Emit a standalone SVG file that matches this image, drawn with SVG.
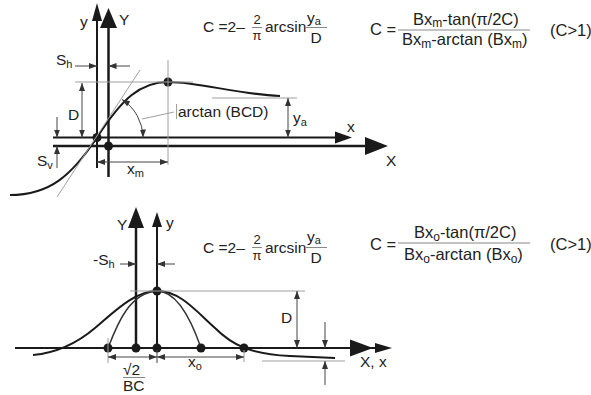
<svg xmlns="http://www.w3.org/2000/svg" width="591" height="395" viewBox="0 0 591 395">
<style>
text{font-family:"Liberation Sans",Arial,sans-serif;fill:#222;font-size:15.5px}
.fn{font-size:13px}
.big{font-size:16.5px}
.sub{font-size:11px}
.bsub{font-size:12px}
.ax{stroke:#1a1a1a;stroke-width:2;fill:none}
.axb{stroke:#1a1a1a;stroke-width:2.5;fill:none}
.head{fill:#1a1a1a;stroke:none}
.cur{stroke:#1a1a1a;stroke-width:2;fill:none}
.cur2{stroke:#333;stroke-width:1.5;fill:none}
.ref{stroke:#a0a0a0;stroke-width:1;fill:none}
.dim{stroke:#444;stroke-width:1;fill:none}
.da{stroke:#444;stroke-width:1;fill:none;marker-end:url(#ar)}
.dd{stroke:#444;stroke-width:1;fill:none;marker-end:url(#ar);marker-start:url(#ar)}
.dot{fill:#1a1a1a}
.fl{stroke:#888;stroke-width:1}
</style>
<defs>
<marker id="ar" markerWidth="8" markerHeight="6" refX="8" refY="3" orient="auto-start-reverse" markerUnits="userSpaceOnUse">
<path d="M0,0 L8,3 L0,6 z" fill="#333"/>
</marker>
</defs>

<!-- TOP DIAGRAM -->
<g id="top-axes">
<line class="ax" x1="97" y1="168" x2="97" y2="18"/>
<polygon class="head" points="97,3 92,21 102,21"/>
<line class="axb" x1="108.5" y1="177" x2="108.5" y2="26"/>
<polygon class="head" points="108.5,8 100,28 117,28"/>
<line class="ax" x1="53" y1="137.5" x2="337" y2="137.5"/>
<polygon class="head" points="352,137.5 335,131.5 335,143.5"/>
<line class="axb" x1="53" y1="146" x2="367" y2="146"/>
<polygon class="head" points="388,146 365,137 365,155"/>
<text x="80" y="27">y</text>
<text x="119" y="25">Y</text>
<text x="347" y="132">x</text>
<text x="386" y="166">X</text>
</g>

<g id="top-curve">
<path class="cur" d="M10,195 C50,195 72,175 97,137.5 C122,99 140,82 168,82 C200,82 235,94 280,96"/>
<circle class="dot" cx="97" cy="137.5" r="4.5"/>
<circle class="dot" cx="108.5" cy="146" r="4.5"/>
<circle class="dot" cx="168" cy="82" r="4.5"/>
</g>

<g id="top-dimensions">
<line class="ref" x1="57" y1="197" x2="140" y2="70"/>
<line class="ref" x1="75" y1="82" x2="193" y2="82"/>
<line class="ref" x1="168" y1="60" x2="168" y2="165"/>
<line class="ref" x1="212" y1="98" x2="297" y2="98"/>
<line class="da" x1="75" y1="66" x2="97" y2="66"/>
<line class="da" x1="130" y1="66" x2="108.5" y2="66"/>
<line class="dd" x1="82" y1="83" x2="82" y2="137.5"/>
<line class="da" x1="57" y1="117" x2="57" y2="137.5"/>
<line class="da" x1="57" y1="168" x2="57" y2="146"/>
<line class="dd" x1="97" y1="162" x2="168" y2="162"/>
<line class="dd" x1="288" y1="98" x2="288" y2="137.5"/>
<path class="dd" d="M143,137.5 A45.5,45.5 0 0 0 122,99.5"/>
<line class="ref" x1="142" y1="119" x2="174" y2="112"/>
<line class="ref" x1="176.5" y1="104" x2="176.5" y2="119"/>
<text x="56" y="65">S<tspan class="sub" dy="3">h</tspan></text>
<text x="68" y="120">D</text>
<text x="37" y="166">S<tspan class="sub" dy="3">v</tspan></text>
<text x="127" y="174">x<tspan class="sub" dy="3">m</tspan></text>
<text x="293" y="123">y<tspan class="sub" dy="3">a</tspan></text>
<text x="178" y="117">arctan (BCD)</text>
</g>

<g id="formula-1">
<text x="203" y="32">C =2–</text>
<text x="257" y="24" text-anchor="middle" class="fn">2</text>
<line class="fl" x1="252" y1="27.5" x2="262" y2="27.5"/>
<text x="257" y="40" text-anchor="middle" class="fn">π</text>
<text x="265" y="32">arcsin</text>
<text x="307" y="23">y<tspan class="sub" dy="2">a</tspan></text>
<line class="fl" x1="306" y1="27.5" x2="327" y2="27.5"/>
<text x="316" y="43" text-anchor="middle">D</text>
</g>

<g id="formula-2">
<text x="370" y="35" class="big">C =</text>
<line class="fl" x1="398" y1="30" x2="530" y2="30"/>
<text x="413" y="24.5" class="big">Bx<tspan class="bsub" dy="2">m</tspan><tspan dy="-2">-tan(π/2C)</tspan></text>
<text x="402" y="45" class="big">Bx<tspan class="bsub" dy="3">m</tspan><tspan dy="-3">-arctan (Bx</tspan><tspan class="bsub" dy="3">m</tspan><tspan dy="-3">)</tspan></text>
<text x="550" y="36" class="big">(C&gt;1)</text>
</g>

<!-- BOTTOM DIAGRAM -->
<g id="bottom-axes">
<line class="ax" x1="15" y1="348" x2="380" y2="348"/>
<polygon class="head" points="373,348 350,339.5 350,356.5"/>
<polygon class="head" points="392,348 375,343 375,353"/>
<line class="axb" x1="136" y1="348" x2="136" y2="226"/>
<polygon class="head" points="136,207 128,228 144,228"/>
<line class="ax" x1="157" y1="348" x2="157" y2="225"/>
<polygon class="head" points="157,212 152,227 162,227"/>
<text x="117" y="230">Y</text>
<text x="166" y="228">y</text>
<text x="360" y="367">X, x</text>
</g>

<g id="bottom-curves">
<path class="cur" d="M33,355 C55,353 75,345 95,328 C115,311 135,291 157,291 C180,291 195,310 215,328 C232,345 250,354 290,356 C310,357 325,357.5 335,358"/>
<path class="cur2" d="M108,348 C118,322 130,293 157,291 C178,291 192,322 201,348"/>
<circle class="dot" cx="108" cy="348" r="4.5"/>
<circle class="dot" cx="136" cy="348" r="4.5"/>
<circle class="dot" cx="157" cy="348" r="4.5"/>
<circle class="dot" cx="201" cy="348" r="4.5"/>
<circle class="dot" cx="244" cy="348" r="4.5"/>
<circle class="dot" cx="157" cy="291" r="4.5"/>
</g>

<g id="bottom-dimensions">
<line class="ref" x1="130" y1="291" x2="305" y2="291"/>
<line class="dd" x1="297" y1="291" x2="297" y2="348"/>
<line class="ref" x1="262" y1="361" x2="345" y2="361"/>
<line class="da" x1="325" y1="322" x2="325" y2="348"/>
<line class="da" x1="325" y1="385" x2="325" y2="361"/>
<line class="da" x1="120" y1="264" x2="136" y2="264"/>
<line class="da" x1="175" y1="264" x2="157" y2="264"/>
<line class="ref" x1="108" y1="338" x2="108" y2="363"/>
<line class="dim" x1="157" y1="350" x2="157" y2="363"/>
<line class="ref" x1="244" y1="350" x2="244" y2="362"/>
<line class="dd" x1="108" y1="357" x2="157" y2="357"/>
<line class="dd" x1="157" y1="357" x2="244" y2="357"/>
<text x="93" y="265">-S<tspan class="sub" dy="3">h</tspan></text>
<text x="281" y="323">D</text>
<text x="123" y="375">√2</text>
<line class="fl" x1="123" y1="377.5" x2="145" y2="377.5"/>
<text x="123" y="391">BC</text>
<text x="188" y="367">x<tspan class="sub" dy="3">o</tspan></text>
</g>

<g id="formula-3">
<text x="203" y="253">C =2–</text>
<text x="257" y="244" text-anchor="middle" class="fn">2</text>
<line class="fl" x1="252" y1="247.5" x2="262" y2="247.5"/>
<text x="257" y="260" text-anchor="middle" class="fn">π</text>
<text x="265" y="253">arcsin</text>
<text x="307" y="242">y<tspan class="sub" dy="2">a</tspan></text>
<line class="fl" x1="306" y1="247.5" x2="327" y2="247.5"/>
<text x="316" y="263" text-anchor="middle">D</text>
</g>

<g id="formula-4">
<text x="370" y="250" class="big">C =</text>
<line class="fl" x1="398" y1="243" x2="530" y2="243"/>
<text x="414" y="238" class="big">Bx<tspan class="bsub" dy="3">o</tspan><tspan dy="-3">-tan(π/2C)</tspan></text>
<text x="404" y="260" class="big">Bx<tspan class="bsub" dy="3">o</tspan><tspan dy="-3">-arctan (Bx</tspan><tspan class="bsub" dy="3">o</tspan><tspan dy="-3">)</tspan></text>
<text x="550" y="250" class="big">(C&gt;1)</text>
</g>
</svg>
